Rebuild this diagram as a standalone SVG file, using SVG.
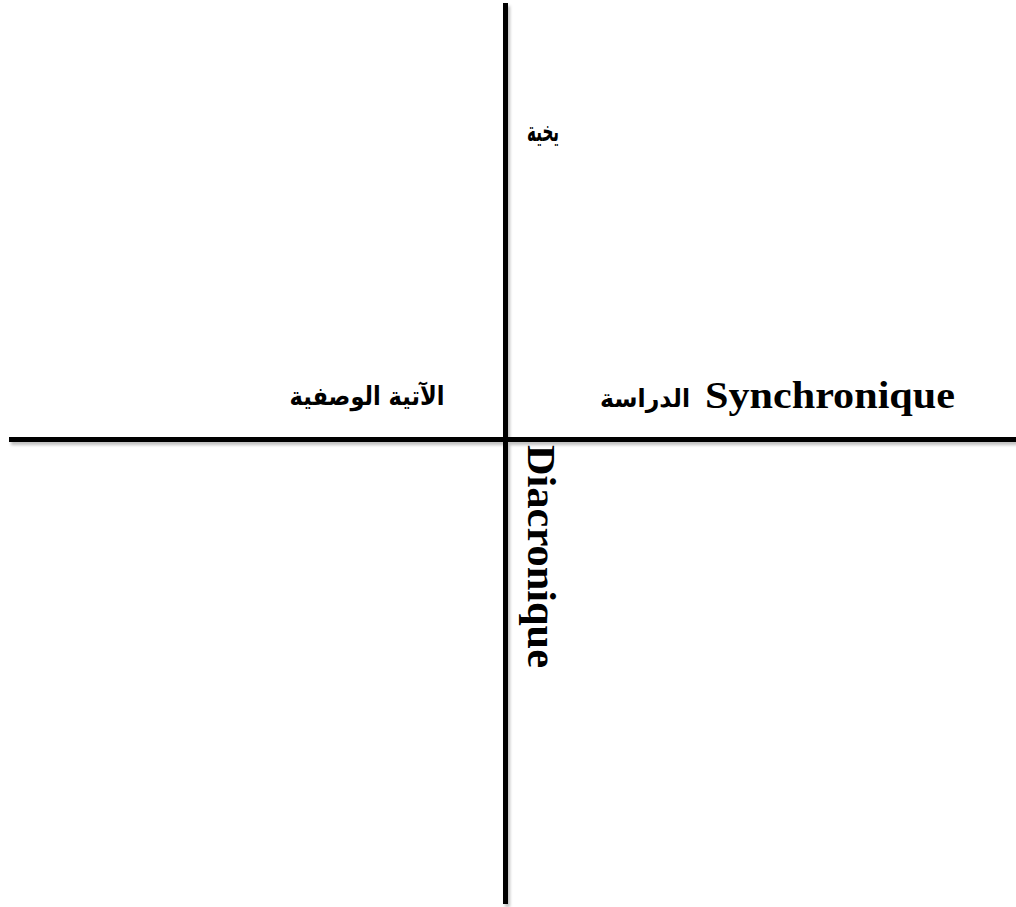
<svg xmlns="http://www.w3.org/2000/svg" width="1016" height="907" viewBox="0 0 1016 907">
<defs>
<filter id="sh" x="-5%" y="-5%" width="110%" height="110%">
<feDropShadow dx="2" dy="3" stdDeviation="1.5" flood-color="#000" flood-opacity="0.25"/>
</filter>
<style>
.ax{stroke:#000;stroke-width:5;fill:none}
.lat{font-family:"Liberation Serif","Times New Roman",serif;font-weight:bold;fill:#000}
.ar{font-family:"DejaVu Sans",sans-serif;font-weight:bold;fill:#000}
</style>
</defs>
<rect width="1016" height="907" fill="#fff"/>
<g id="connectors" filter="url(#sh)">
<line class="ax" x1="505.5" y1="3" x2="505.5" y2="904"/>
<line class="ax" x1="9" y1="439.5" x2="1016" y2="439.5"/>
</g>
<g id="label-top">
<text class="ar" x="543" y="141" font-size="28" text-anchor="middle" textLength="32" lengthAdjust="spacingAndGlyphs">يخية</text>
</g>
<g id="label-left">
<text class="ar" x="367" y="405" font-size="26" text-anchor="middle" textLength="155" lengthAdjust="spacingAndGlyphs">الآتية الوصفية</text>
</g>
<g id="label-right">
<text class="ar" x="645" y="407" font-size="25" text-anchor="middle" textLength="90" lengthAdjust="spacingAndGlyphs">الدراسة</text>
<text class="lat" x="705" y="408" font-size="37" textLength="250" lengthAdjust="spacingAndGlyphs">Synchronique</text>
</g>
<g id="label-vertical">
<text class="lat" transform="translate(528,445) rotate(90)" x="0" y="0" font-size="40" textLength="223" lengthAdjust="spacingAndGlyphs">Diacronique</text>
</g>
</svg>
